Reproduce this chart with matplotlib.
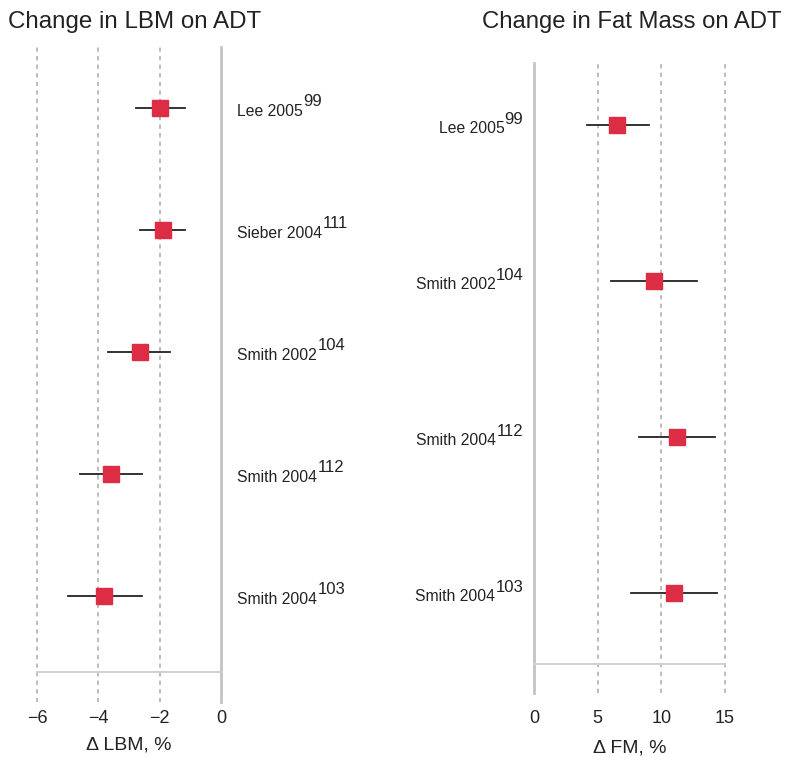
import matplotlib
matplotlib.use('Agg')
import matplotlib.pyplot as plt

plt.rcParams['font.family'] = ['Liberation Sans', 'DejaVu Sans']

# left panel: change in lean body mass
lbm_study = ['Lee 2005', 'Sieber 2004', 'Smith 2002', 'Smith 2004', 'Smith 2004']
lbm_ref = ['99', '111', '104', '112', '103']
lbm_mean = [-2.0, -1.9, -2.65, -3.6, -3.8]
lbm_lo = [-2.77, -2.64, -3.68, -4.59, -4.98]
lbm_hi = [-1.17, -1.17, -1.66, -2.57, -2.57]

# right panel: change in fat mass
fm_study = ['Lee 2005', 'Smith 2002', 'Smith 2004', 'Smith 2004']
fm_ref = ['99', '104', '112', '103']
fm_mean = [6.5, 9.4, 11.2, 11.0]
fm_lo = [4.2, 6.05, 8.25, 7.6]
fm_hi = [9.0, 12.8, 14.2, 14.4]

red = '#DC2D44'
ink = '#222222'
W, H = 787, 757

fig = plt.figure(figsize=(W/100, H/100), dpi=100)


def px_axes(x0, x1, ytop, ybot):
	return fig.add_axes([x0/W, 1-ybot/H, (x1-x0)/W, (ybot-ytop)/H])


def forest(ax, mean, lo, hi, grid, zero, bottom_y, pad):
	for xg in grid:
		ax.axvline(xg, color='#bcbcbc', lw=1.4, ls=(0, (2.2, 2.2)), zorder=1, clip_on=False)
	ax.axvline(zero, color='#c4c4c4', lw=2, zorder=1, clip_on=False)
	ax.axhline(bottom_y, color='#d0d0d0', lw=1.4, zorder=1, clip_on=False)
	for i in range(len(mean)):
		ax.plot([lo[i], hi[i]], [i, i], color=ink, lw=1.3, zorder=2)
		ax.plot(mean[i], i, marker='s', ms=11.5, color=red, mec=red, zorder=3)
	for s in ax.spines.values():
		s.set_visible(False)
	ax.set_yticks([])
	ax.tick_params(axis='x', length=0, labelsize=13, pad=pad, colors=ink)


def label(ax, x, y, name, ref, right):
	if right:
		sup = ax.annotate(ref, xy=(x, y), xytext=(0, -1), textcoords='offset points',
			ha='right', va='bottom', fontsize=12, color=ink, annotation_clip=False)
		ax.annotate(name, xy=(0, 0), xycoords=sup, xytext=(0, -1.5), textcoords='offset points',
			ha='right', va='center', fontsize=11.3, color=ink, annotation_clip=False)
	else:
		t = ax.annotate(name, xy=(x, y), xytext=(0, -2.5), textcoords='offset points',
			ha='left', va='center', fontsize=11.3, color=ink, annotation_clip=False)
		ax.annotate(ref, xy=(1, 0.5), xycoords=t, xytext=(0.5, 1.5), textcoords='offset points',
			ha='left', va='bottom', fontsize=12, color=ink, annotation_clip=False)


# left
ax1 = px_axes(37, 221, 47, 702)
forest(ax1, lbm_mean, lbm_lo, lbm_hi, [-6, -4, -2], 0, 4.62, 5.5)
ax1.set_xlim(-6, 0)
ax1.set_ylim(4.87, -0.5)
ax1.set_xticks([-6, -4, -2, 0])
ax1.set_xticklabels(['\u22126', '\u22124', '\u22122', '0'])
ax1.set_xlabel('\u0394 LBM, %', fontsize=14, color=ink, labelpad=7)
for i in range(len(lbm_study)):
	label(ax1, 0.52, i, lbm_study[i], lbm_ref[i], False)

# right
ax2 = px_axes(534, 725, 63, 693)
forest(ax2, fm_mean, fm_lo, fm_hi, [5, 10, 15], 0, 3.455, 12)
ax2.set_xlim(0, 15)
ax2.set_ylim(3.64, -0.4)
ax2.set_xticks([0, 5, 10, 15])
ax2.set_xlabel('\u0394 FM, %', fontsize=14, color=ink, labelpad=9.5)
for i in range(len(fm_study)):
	label(ax2, -0.86, i, fm_study[i], fm_ref[i], True)

fig.text(8/W, 1-22/H, 'Change in LBM on ADT', fontsize=17.4, color=ink, ha='left', va='center')
fig.text(781/W, 1-22/H, 'Change in Fat Mass on ADT', fontsize=17.2, color=ink, ha='right', va='center')

fig.savefig('out.png', dpi=100)
